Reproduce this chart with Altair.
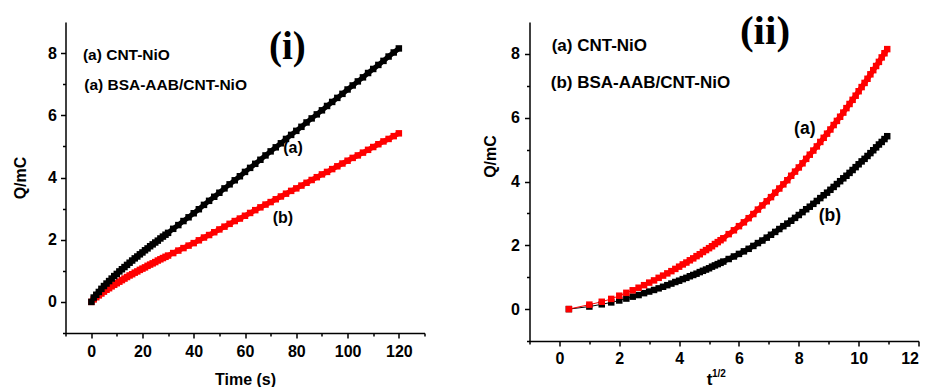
import altair as alt
import pandas as pd

# sample times (s)
t_s = [0.1] + list(range(1, 31)) + list(range(32, 121, 2))

# (a) CNT-NiO  charge Q (mC)
q_a = [0.00,
       0.14, 0.23, 0.32, 0.42, 0.51, 0.59, 0.67, 0.75, 0.83, 0.90,
       0.98, 1.05, 1.12, 1.19, 1.26, 1.33, 1.40, 1.46, 1.53, 1.59,
       1.66, 1.72, 1.79, 1.85, 1.91, 1.97, 2.04, 2.10, 2.16, 2.22,
       2.35, 2.47, 2.60, 2.72, 2.85, 2.98, 3.12, 3.25, 3.38, 3.51,
       3.65, 3.78, 3.91, 4.04, 4.18, 4.31, 4.44, 4.57, 4.71, 4.84,
       4.97, 5.10, 5.24, 5.37, 5.50, 5.63, 5.77, 5.90, 6.03, 6.16,
       6.30, 6.43, 6.56, 6.69, 6.83, 6.96, 7.09, 7.22, 7.36, 7.49,
       7.62, 7.75, 7.89, 8.02, 8.15]

# (b) BSA-AAB/CNT-NiO  charge Q (mC)
q_b = [0.00,
       0.08, 0.15, 0.21, 0.27, 0.33, 0.39, 0.44, 0.50, 0.55, 0.60,
       0.65, 0.70, 0.75, 0.80, 0.85, 0.89, 0.94, 0.98, 1.03, 1.07,
       1.11, 1.16, 1.20, 1.24, 1.28, 1.33, 1.37, 1.41, 1.45, 1.49,
       1.57, 1.65, 1.73, 1.81, 1.89, 1.98, 2.07, 2.15, 2.24, 2.33,
       2.42, 2.51, 2.60, 2.68, 2.77, 2.86, 2.95, 3.04, 3.13, 3.21,
       3.30, 3.39, 3.48, 3.57, 3.65, 3.74, 3.83, 3.92, 4.01, 4.10,
       4.18, 4.27, 4.36, 4.45, 4.54, 4.63, 4.71, 4.80, 4.89, 4.98,
       5.07, 5.16, 5.24, 5.33, 5.42]

series_names = ["a", "b"]

# annotation texts
legend_left = ["(a) CNT-NiO", "(a) BSA-AAB/CNT-NiO"]
legend_right = ["(a) CNT-NiO", "(b) BSA-AAB/CNT-NiO"]
curve_tags = ["(a)", "(b)"]

n = len(t_s)
df = pd.DataFrame({
    "t": t_s + t_s,
    "Q": q_b + q_a,
    "series": ["b"] * n + ["a"] * n,
})

SANS = "Liberation Sans"
SERIF = "Liberation Serif"


def axis(values, orient, labels=True, size=5, domain=True, **kw):
    return alt.Axis(values=values, orient=orient, labels=labels, tickSize=size, domain=domain,
                    tickColor="black", tickWidth=1.5, domainColor="black", domainWidth=1.5,
                    labelFont=SANS, labelFontSize=16, labelFontWeight="bold", labelColor="black",
                    titleFont=SANS, titleFontWeight="bold", titleColor="black",
                    grid=False, **kw)


def text_layer(frame, xs, ys, font, size, align="left"):
    return alt.Chart(frame).mark_text(font=font, fontSize=size, fontWeight="bold",
                                       color="black", align=align, baseline="middle").encode(
        x=alt.X("x:Q", scale=xs, axis=None),
        y=alt.Y("y:Q", scale=ys, axis=None),
        text="text:N")


def panel(xf, x_dom, x_major, x_minor, x_kw, y_kw, color_a, color_b, w, h, texts, line_w,
          thick_from=None, calc=None):
    base = alt.Chart(df)
    if calc:
        base = base.transform_calculate(**calc)
    xs = alt.Scale(domain=x_dom, nice=False, zero=False)
    ys = alt.Scale(domain=[-1, 9], nice=False, zero=False)
    color = alt.Color("series:N", scale=alt.Scale(domain=series_names, range=[color_a, color_b]),
                      legend=None)
    lines = base.mark_line(strokeWidth=line_w).encode(
        x=alt.X(f"{xf}:Q", scale=xs,
                axis=axis(x_minor, "bottom", labels=False, size=3, domain=False, title=None)),
        y=alt.Y("Q:Q", scale=ys,
                axis=axis([-1, 1, 3, 5, 7], "left", labels=False, size=3, domain=False, title=None)),
        color=color, detail="series:N")
    layers = [lines]
    if thick_from is not None:
        thick = base.transform_filter(f"datum.t >= {thick_from}").mark_line(strokeWidth=5).encode(
            x=alt.X(f"{xf}:Q", scale=xs, axis=None),
            y=alt.Y("Q:Q", scale=ys, axis=None),
            color=color, detail="series:N")
        layers.append(thick)
    pts = base.mark_point(shape="square", filled=True, size=42, opacity=1).encode(
        x=alt.X(f"{xf}:Q", scale=xs, axis=axis(x_major, "bottom", **x_kw)),
        y=alt.Y("Q:Q", scale=ys, axis=axis([0, 2, 4, 6, 8], "left", **y_kw)),
        color=color)
    layers.append(pts)
    layers += [text_layer(f, xs, ys, font, size, align) for (f, font, size, align) in texts]
    return alt.layer(*layers).resolve_axis(x="independent", y="independent").properties(width=w, height=h)


# ---------- left panel (i) ----------
left_texts = [
    (pd.DataFrame({"x": [-3.2, -2.7], "y": [7.93, 6.96], "text": legend_left}), SANS, 15.5, "left"),
    (pd.DataFrame({"x": [76.5], "y": [8.2], "text": ["(i)"]}), SERIF, 39, "center"),
    (pd.DataFrame({"x": [78.7, 74.8], "y": [4.95, 2.69], "text": curve_tags}), SANS, 16, "center"),
]
left = panel("t", [-10, 130], list(range(0, 121, 20)), list(range(-10, 131, 20)),
             dict(title="Time (s)", titleFontSize=16, titleY=46, titleBaseline="middle", labelPadding=5),
             dict(title="Q/mC", titleFontSize=16, titleX=-45.5, titleY=155.5, titleAngle=270,
                  titleBaseline="middle", titleAlign="center", labelPadding=4),
             "#000000", "#ff0000", 359, 311, left_texts, 5)

# ---------- right panel (ii) ----------
right_texts = [
    (pd.DataFrame({"x": [-0.26, -0.29], "y": [8.25, 7.08], "text": legend_right}), SANS, 17, "left"),
    (pd.DataFrame({"x": [6.87], "y": [8.69], "text": ["(ii)"]}), SERIF, 41, "center"),
    (pd.DataFrame({"x": [8.2, 9.04], "y": [5.66, 2.91], "text": curve_tags}), SANS, 17.5, "center"),
    (pd.DataFrame({"x": [5.33], "y": [-2.05], "text": ["1/2"]}), SANS, 10, "center"),
]
right = panel("rt", [-1, 12], list(range(0, 13, 2)), list(range(-1, 12, 2)),
              dict(title="t", titleFontSize=17, titleX=179.5, titleY=38, titleBaseline="middle", labelPadding=4),
              dict(title="Q/mC", titleFontSize=16, titleX=-39.5, titleY=134, titleAngle=270,
                   titleBaseline="middle", titleAlign="center", labelPadding=5),
              "#ff0000", "#000000", 389, 319, right_texts, 1, thick_from=16,
              calc={"rt": "sqrt(datum.t)"})

chart = alt.hconcat(left, right, spacing=105, bounds="flush").resolve_scale(
    x="independent", y="independent", color="independent"
).properties(
    padding={"left": 11.5, "top": 10, "right": 0, "bottom": 0},
    background="white",
).configure_view(stroke=None)

chart.save("out.html", embed_options={"renderer": "svg", "actions": False})
